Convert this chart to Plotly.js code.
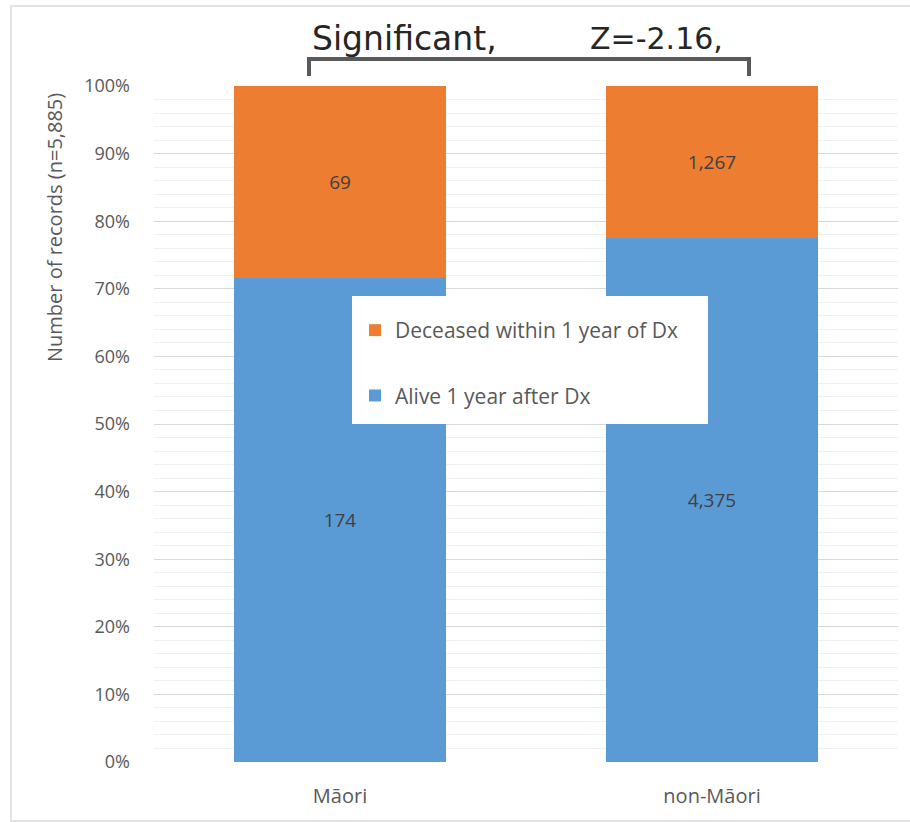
<!DOCTYPE html>
<html>
<head>
<meta charset="utf-8">
<script src="https://cdn.plot.ly/plotly-3.0.1.min.js"></script>
<style>
  html, body { margin: 0; padding: 0; background: #fff; }
  #chart { width: 910px; height: 822px; }
</style>
</head>
<body>
<div id="chart"></div>
<script>
// 数据
const groups = ['Māori', 'non-Māori'];
const alive = [174, 4375];
const deceased = [69, 1267];
const seriesNames = ['Alive 1 year after Dx', 'Deceased within 1 year of Dx'];
const sigText = 'Significant,';
const zText = 'Z=-2.16,';
const yTitle = 'Number of records (n=5,885)';

// 像素 -> paper 坐标
const L = 154, R = 898, T = 86, B = 762;
const px = x => (x - L) / (R - L);
const py = y => (B - y) / (B - T);

const fmt = v => v.toLocaleString('en-US');
const baseFont = '"Open Sans", Lato, sans-serif';
const labelFont = { family: baseFont, size: 19, color: '#404040' };

const traces = [
  {
    type: 'bar', name: seriesNames[0], x: groups, y: alive,
    text: alive.map(fmt), texttemplate: '%{text}',
    textposition: 'inside', insidetextanchor: 'middle', textangle: 0,
    insidetextfont: labelFont, marker: { color: '#5B9BD5' },
    legendgroup: 'a', legendrank: 2, hoverinfo: 'skip'
  },
  {
    type: 'bar', name: seriesNames[1], x: groups, y: deceased,
    text: deceased.map(fmt), texttemplate: '%{text}',
    textposition: 'inside', insidetextanchor: 'middle', textangle: 0,
    insidetextfont: labelFont, marker: { color: '#ED7D31' },
    legendgroup: 'd', legendrank: 1, hoverinfo: 'skip'
  }
];

const layout = {
  width: 910, height: 822,
  margin: { l: L, r: 910 - R, t: T, b: 822 - B },
  paper_bgcolor: '#fff', plot_bgcolor: '#fff',
  barmode: 'stack', barnorm: 'fraction', bargap: 0.43,
  showlegend: true,
  font: { family: baseFont, color: '#595959' },
  xaxis: {
    showgrid: false, zeroline: false, showline: false, ticks: '',
    ticklabelstandoff: 20,
    tickfont: { size: 20, color: '#595959' }
  },
  yaxis: {
    range: [0, 1], dtick: 0.1, tickformat: '.0%',
    gridcolor: '#d9d9d9', gridwidth: 1, zeroline: false, showline: false,
    ticks: '', ticklabelstandoff: 23,
    tickfont: { size: 18, color: '#595959' },
    minor: { dtick: 0.02, showgrid: true, gridcolor: '#f0f0f0', gridwidth: 1 }
  },
  legend: {
    x: px(355), y: py(310), xanchor: 'left', yanchor: 'top',
    bgcolor: 'rgba(0,0,0,0)', borderwidth: 0,
    traceorder: 'grouped', tracegroupgap: 35,
    font: { size: 21, color: '#595959' }
  },
  shapes: [
    // 外框
    { type: 'rect', xref: 'paper', yref: 'paper',
      x0: px(11), x1: px(915), y0: py(821), y1: py(6),
      line: { color: '#e3e3e3', width: 2 }, fillcolor: 'rgba(0,0,0,0)', layer: 'below' },
    // 图例白底
    { type: 'rect', xref: 'paper', yref: 'paper',
      x0: px(352), x1: px(708), y0: py(424), y1: py(296),
      line: { width: 0 }, fillcolor: '#fff', layer: 'above' },
    // 显著性括号
    { type: 'path', xref: 'paper', yref: 'paper',
      path: `M${px(309)},${py(76)} L${px(309)},${py(59)} L${px(749)},${py(59)} L${px(749)},${py(76)}`,
      line: { color: '#595959', width: 4 }, layer: 'above' }
  ],
  annotations: [
    { text: sigText, xref: 'paper', yref: 'paper', x: px(310), y: py(38),
      xanchor: 'left', yanchor: 'middle', showarrow: false,
      font: { family: '"DejaVu Sans", sans-serif', size: 33, color: '#262626' } },
    { text: zText, xref: 'paper', yref: 'paper', x: px(588), y: py(38),
      xanchor: 'left', yanchor: 'middle', showarrow: false,
      font: { family: '"DejaVu Sans", sans-serif', size: 30, color: '#262626' } },
    { text: yTitle, xref: 'paper', yref: 'paper', x: px(55), y: py(228),
      xanchor: 'center', yanchor: 'middle', textangle: -90, showarrow: false,
      font: { size: 20, color: '#595959' } }
  ]
};

Plotly.newPlot('chart', traces, layout, { displayModeBar: false, staticPlot: true });
</script>
</body>
</html>
